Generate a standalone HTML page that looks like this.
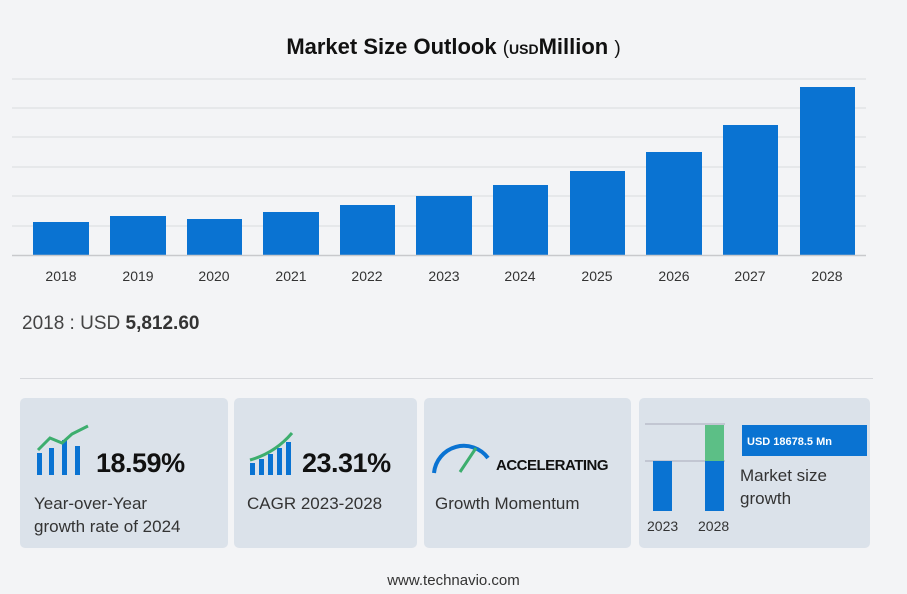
<!DOCTYPE html>
<html><head><style>
body{margin:0;width:907px;height:594px;background:#f3f4f6;font-family:"Liberation Sans",sans-serif;position:relative;overflow:hidden}
.a{position:absolute}
.card{position:absolute;top:398px;height:150px;background:#dbe2ea;border-radius:5px}
.big{font-weight:bold;font-size:27px;color:#111;letter-spacing:-0.5px}
.lbl{font-size:17px;color:#333;line-height:23px}
</style></head><body>
<div class="a" style="left:0;width:907px;top:34px;text-align:center;font-weight:bold;font-size:22px;color:#111">Market Size Outlook <span style="font-weight:normal;font-size:19px">(</span><span style="font-size:14px">USD</span>Million <span style="font-weight:normal;font-size:19px">)</span></div>
<svg class="a" style="left:0;top:0" width="907" height="300">
<g stroke="#e2e3e6" stroke-width="1.5">
<line x1="12" x2="866" y1="79" y2="79"/><line x1="12" x2="866" y1="108" y2="108"/><line x1="12" x2="866" y1="137" y2="137"/><line x1="12" x2="866" y1="167" y2="167"/><line x1="12" x2="866" y1="196" y2="196"/><line x1="12" x2="866" y1="226" y2="226"/></g>
<g fill="#0a73d2">
<rect x="33" y="222" width="56" height="33"/><rect x="110" y="216" width="56" height="39"/><rect x="187" y="219" width="55" height="36"/><rect x="263" y="212" width="56" height="43"/><rect x="340" y="205" width="55" height="50"/><rect x="416" y="196" width="56" height="59"/><rect x="493" y="185" width="55" height="70"/><rect x="570" y="171" width="55" height="84"/><rect x="646" y="152" width="56" height="103"/><rect x="723" y="125" width="55" height="130"/><rect x="800" y="87" width="55" height="168"/></g>
<line x1="12" x2="866" y1="255.5" y2="255.5" stroke="#c8c9cc" stroke-width="1.5"/>
<g font-size="14" fill="#333" text-anchor="middle">
<text x="61" y="281">2018</text><text x="138" y="281">2019</text><text x="214" y="281">2020</text><text x="291" y="281">2021</text><text x="367" y="281">2022</text><text x="444" y="281">2023</text><text x="520" y="281">2024</text><text x="597" y="281">2025</text><text x="674" y="281">2026</text><text x="750" y="281">2027</text><text x="827" y="281">2028</text></g>
</svg>
<div class="a" style="left:22px;top:313px;font-size:19px;color:#444">2018 : USD <b style="color:#333">5,812.60</b></div>
<div class="a" style="left:20px;top:378px;width:853px;height:1px;background:#d6d8dc"></div>
<div class="card" style="left:20px;width:208px"></div>
<div class="card" style="left:234px;width:183px"></div>
<div class="card" style="left:424px;width:207px"></div>
<div class="card" style="left:639px;width:231px"></div>
<svg class="a" style="left:0;top:398px" width="907" height="150">
<g fill="#0a73d2"><rect x="37" y="55" width="5" height="22"/><rect x="49" y="50" width="5" height="27"/><rect x="62" y="42" width="5" height="35"/><rect x="75" y="48" width="5" height="29"/>
<rect x="250" y="65" width="5" height="12"/><rect x="259" y="61" width="5" height="16"/><rect x="268" y="56" width="5" height="21"/><rect x="277" y="50" width="5" height="27"/><rect x="286" y="44" width="5" height="33"/></g>
<polyline points="38,52 50,40 62,45 72,36 88,28" fill="none" stroke="#3dae6e" stroke-width="3"/>
<path d="M250,62 Q275,55 292,35" fill="none" stroke="#3dae6e" stroke-width="3"/>
<path d="M434,75 A30,30 0 0 1 488,60" fill="none" stroke="#0a73d2" stroke-width="4"/>
<line x1="460" y1="74" x2="476" y2="50" stroke="#3dae6e" stroke-width="3"/>
<line x1="645" y1="26" x2="725" y2="26" stroke="#aab" /><line x1="645" y1="63" x2="725" y2="63" stroke="#aab"/>
<rect x="653" y="63" width="19" height="50" fill="#0a73d2"/>
<rect x="705" y="27" width="19" height="36" fill="#5cbf86"/>
<rect x="705" y="63" width="19" height="50" fill="#0a73d2"/>
<rect x="742" y="27" width="125" height="31" fill="#0a73d2"/>
<text x="747" y="47" font-size="11" font-weight="bold" fill="#fff">USD 18678.5 Mn</text>
</svg>
<div class="a big" style="left:96px;top:448px">18.59%</div>
<div class="a lbl" style="left:34px;top:492px">Year-over-Year<br>growth rate of 2024</div>
<div class="a big" style="left:302px;top:448px">23.31%</div>
<div class="a lbl" style="left:247px;top:492px">CAGR 2023-2028</div>
<div class="a" style="left:496px;top:457px;font-weight:bold;font-size:15px;color:#111;letter-spacing:-0.5px">ACCELERATING</div>
<div class="a lbl" style="left:435px;top:492px">Growth Momentum</div>
<div class="a lbl" style="left:740px;top:464px">Market size<br>growth</div>
<div class="a" style="left:647px;top:518px;font-size:14px;color:#333">2023</div>
<div class="a" style="left:698px;top:518px;font-size:14px;color:#333">2028</div>
<div class="a" style="left:0;width:907px;top:572px;text-align:center;font-size:15px;color:#333">www.technavio.com</div>
</body></html>
